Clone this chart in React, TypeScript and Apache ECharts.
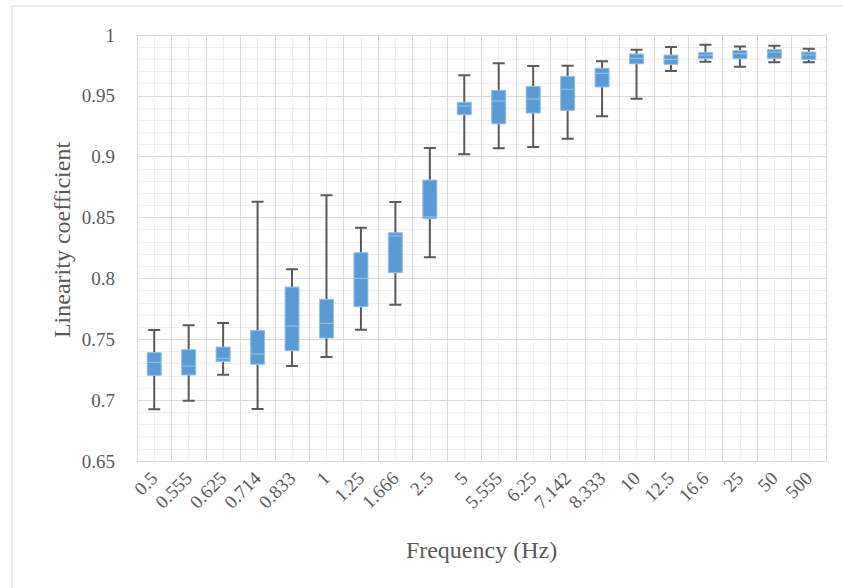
import React, { useEffect, useRef } from "react";
import * as echarts from "echarts";

// Sampling frequencies (Hz) along the horizontal axis
const frequencies = [
  "0.5", "0.555", "0.625", "0.714", "0.833", "1", "1.25", "1.666", "2.5", "5",
  "5.555", "6.25", "7.142", "8.333", "10", "12.5", "16.6", "25", "50", "500",
];

// Box-and-whisker statistics of the linearity coefficient per frequency
const whiskerLow = [
  0.6925, 0.6995, 0.7209, 0.6927, 0.728, 0.7354, 0.7579, 0.7784, 0.8174, 0.902,
  0.9069, 0.9079, 0.9148, 0.9332, 0.9477, 0.9704, 0.978, 0.974, 0.9776, 0.9776,
];
const quartile1 = [
  0.7212, 0.7215, 0.7327, 0.7303, 0.7415, 0.7519, 0.7776, 0.8055, 0.8499, 0.9353,
  0.9279, 0.9367, 0.9389, 0.9581, 0.9772, 0.9767, 0.9814, 0.9814, 0.9817, 0.9806,
];
const median = [
  0.7311, 0.728, 0.7344, 0.7379, 0.7609, 0.7631, 0.8001, 0.8349, 0.8505, 0.9417,
  0.9458, 0.9474, 0.9554, 0.9685, 0.9808, 0.9799, 0.9836, 0.9846, 0.9859, 0.9836,
];
const quartile3 = [
  0.7382, 0.7406, 0.7428, 0.7563, 0.7921, 0.782, 0.8203, 0.8367, 0.88, 0.9439,
  0.9537, 0.957, 0.9652, 0.9718, 0.9836, 0.9827, 0.9849, 0.9865, 0.9873, 0.9852,
];
const whiskerHigh = [
  0.7576, 0.7615, 0.7634, 0.863, 0.8075, 0.8683, 0.8417, 0.8628, 0.9072, 0.9669,
  0.9767, 0.9745, 0.9748, 0.9784, 0.9879, 0.9901, 0.992, 0.9906, 0.9912, 0.9888,
];

const FONT = "'Liberation Serif', 'Times New Roman', serif";
const TEXT = "#595959";
const MAJOR = "#d9d9d9";
const MINOR = "#eeeeee";
const BOX_FILL = "#5b9bd5";
const BOX_EDGE = "#9dc3e6";

export default function App() {
  const ref = useRef<HTMLDivElement>(null);

  useEffect(() => {
    if (!ref.current) return;
    const chart = echarts.init(ref.current, null, { renderer: "svg" });

    const whiskerData = frequencies.map((_, i) => [
      whiskerLow[i], quartile1[i], median[i], quartile3[i], whiskerHigh[i],
    ]);
    const boxData = frequencies.map((_, i) => [i, quartile1[i], median[i], quartile3[i]]);

    chart.setOption({
      animation: false,
      graphic: [
        {
          type: "rect",
          shape: { x: 12, y: 6, width: 860, height: 620 },
          style: { fill: "none", stroke: MAJOR, lineWidth: 1 },
          silent: true,
        },
        {
          type: "text",
          x: 62,
          y: 240,
          rotation: Math.PI / 2,
          silent: true,
          style: {
            text: "Linearity coefficient",
            fontFamily: FONT,
            fontSize: 24,
            fill: TEXT,
            align: "center",
            verticalAlign: "middle",
          },
        },
      ],
      grid: { left: 137, right: 17, top: 35, bottom: 127 },
      xAxis: [
        {
          type: "category",
          data: frequencies,
          boundaryGap: true,
          name: "Frequency (Hz)",
          nameLocation: "middle",
          nameGap: 77,
          nameTextStyle: { fontFamily: FONT, fontSize: 24, color: TEXT },
          axisLine: { show: true, lineStyle: { color: MAJOR, width: 1 } },
          axisTick: { show: false },
          splitLine: { show: true, interval: 0, lineStyle: { color: MAJOR, width: 1 } },
          axisLabel: {
            interval: 0,
            rotate: 45,
            margin: 14,
            fontFamily: FONT,
            fontSize: 19,
            color: TEXT,
          },
        },
        {
          // helper axis that only draws the light lines through category centres
          type: "value",
          min: 0,
          max: 20,
          interval: 1,
          position: "bottom",
          axisLine: { show: false },
          axisTick: { show: false },
          axisLabel: { show: false },
          splitLine: { show: false },
          minorTick: { show: false, splitNumber: 2 },
          minorSplitLine: { show: true, lineStyle: { color: MINOR, width: 1 } },
        },
      ],
      yAxis: {
        type: "value",
        min: 0.65,
        max: 1,
        interval: 0.05,
        axisLine: { show: false },
        axisTick: { show: false },
        axisLabel: {
          margin: 22,
          fontFamily: FONT,
          fontSize: 19,
          color: TEXT,
          formatter: (v: number) => String(+v.toFixed(2)),
        },
        splitLine: { show: true, lineStyle: { color: MAJOR, width: 1 } },
        minorTick: { show: false, splitNumber: 5 },
        minorSplitLine: { show: true, lineStyle: { color: MINOR, width: 1 } },
      },
      series: [
        {
          type: "boxplot",
          xAxisIndex: 0,
          yAxisIndex: 0,
          z: 2,
          data: whiskerData,
          boxWidth: [12, 12],
          silent: true,
          itemStyle: { color: "transparent", borderColor: "#5a5a5a", borderWidth: 2 },
          emphasis: { disabled: true },
        },
        {
          type: "custom",
          xAxisIndex: 0,
          yAxisIndex: 0,
          z: 5,
          data: boxData,
          silent: true,
          encode: { x: 0, y: [1, 2, 3] },
          renderItem: (_params: any, api: any) => {
            const idx = api.value(0);
            const top = api.coord([idx, api.value(3)]);
            const bottom = api.coord([idx, api.value(1)]);
            const mid = api.coord([idx, api.value(2)]);
            const w = 14;
            return {
              type: "group",
              children: [
                {
                  type: "rect",
                  shape: {
                    x: top[0] - w / 2,
                    y: top[1] - 1,
                    width: w,
                    height: bottom[1] - top[1] + 2,
                  },
                  style: { fill: BOX_FILL, stroke: BOX_EDGE, lineWidth: 1 },
                },
                {
                  type: "line",
                  shape: { x1: mid[0] - w / 2, y1: mid[1], x2: mid[0] + w / 2, y2: mid[1] },
                  style: { stroke: BOX_EDGE, lineWidth: 1 },
                },
              ],
            };
          },
        },
      ],
    });

    return () => chart.dispose();
  }, []);

  return (
    <div
      ref={ref}
      style={{ position: "fixed", left: 0, top: 0, width: 843, height: 588, background: "#fff" }}
    />
  );
}
